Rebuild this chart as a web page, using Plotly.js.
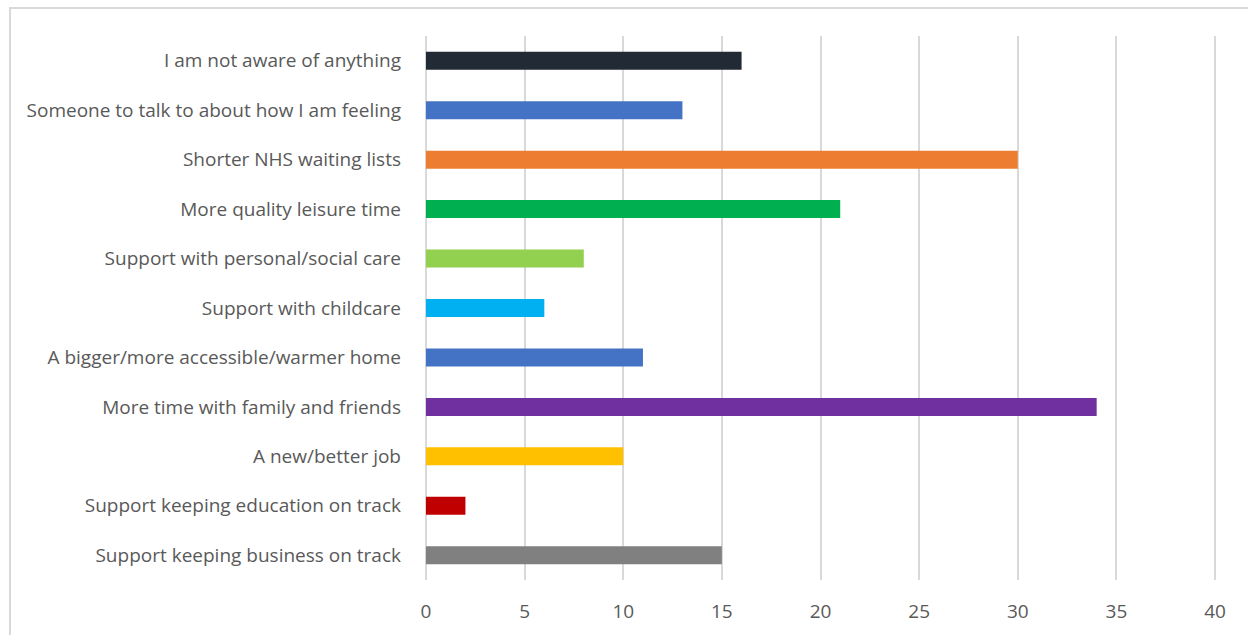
<!DOCTYPE html>
<html>
<head>
<meta charset="utf-8">
<script src="https://cdn.plot.ly/plotly-3.0.1.min.js"></script>
<style>
html,body{margin:0;padding:0;background:#fff;}
#wrap{position:relative;width:1248px;height:635px;overflow:hidden;}
#chart{width:1248px;height:635px;}
#frame{position:absolute;left:9px;top:7px;width:1300px;height:700px;border-left:2px solid #d9d9d9;border-top:2px solid #d9d9d9;pointer-events:none;}
</style>
</head>
<body>
<div id="wrap"><div id="chart"></div><div id="frame"></div></div>
<script>
const categories = [
  "I am not aware of anything",
  "Someone to talk to about how I am feeling",
  "Shorter NHS waiting lists",
  "More quality leisure time",
  "Support with personal/social care",
  "Support with childcare",
  "A bigger/more accessible/warmer home",
  "More time with family and friends",
  "A new/better job",
  "Support keeping education on track",
  "Support keeping business on track"
];
const values = [16, 13, 30, 21, 8, 6, 11, 34, 10, 2, 15];
const barColors = ["#222a35", "#4472c4", "#ed7d31", "#00b050", "#92d050", "#00b0f0", "#4472c4", "#7030a0", "#ffc000", "#c00000", "#808080"];
const xTicks = [0, 5, 10, 15, 20, 25, 30, 35, 40];

const trace = {
  type: "bar",
  orientation: "h",
  y: categories,
  x: values,
  marker: {color: barColors, line: {width: 0}},
  hoverinfo: "x+y"
};

const layout = {
  width: 1248,
  height: 635,
  margin: {l: 424, r: 31, t: 36, b: 55},
  paper_bgcolor: "#ffffff",
  plot_bgcolor: "#ffffff",
  showlegend: false,
  bargap: 0.636,
  font: {family: "Open Sans, Liberation Sans, Arial, sans-serif", size: 19, color: "#595959"},
  xaxis: {
    range: [-0.1, 40.1],
    tickvals: xTicks,
    ticktext: xTicks.map(String),
    showgrid: true,
    gridcolor: "#d9d9d9",
    gridwidth: 2,
    zeroline: false,
    showline: false,
    ticks: "",
    ticklabelstandoff: 18,
    tickfont: {size: 19, color: "#595959"},
    fixedrange: true
  },
  yaxis: {
    type: "category",
    autorange: "reversed",
    showgrid: false,
    zeroline: false,
    showline: false,
    ticks: "",
    ticklabelstandoff: 22,
    tickfont: {size: 19, color: "#595959"},
    fixedrange: true
  }
};

Plotly.newPlot("chart", [trace], layout, {displayModeBar: false, staticPlot: true});
</script>
</body>
</html>
